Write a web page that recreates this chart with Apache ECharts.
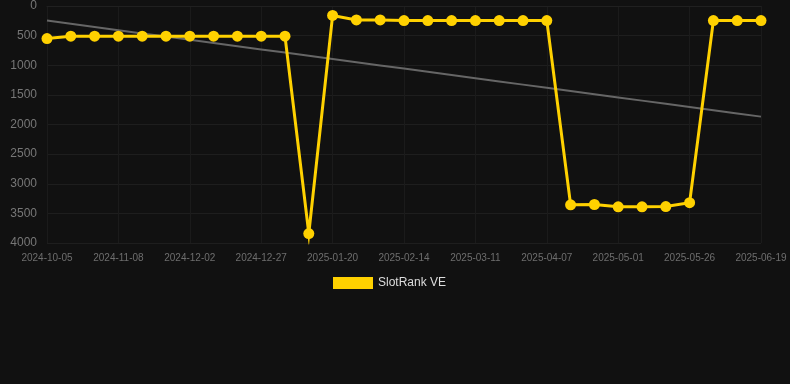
<!DOCTYPE html>
<html>
<head>
<meta charset="utf-8">
<script src="https://cdn.jsdelivr.net/npm/echarts@6/dist/echarts.min.js"></script>
<style>
  html, body { margin: 0; padding: 0; background: #111111; }
  #chart { width: 790px; height: 384px; }
</style>
</head>
<body>
<div id="chart"></div>
<script>
const dates = [
  "2024-10-05", "2024-10-17", "2024-10-28", "2024-11-08", "2024-11-16", "2024-11-24",
  "2024-12-02", "2024-12-10", "2024-12-19", "2024-12-27", "2025-01-04", "2025-01-12",
  "2025-01-20", "2025-01-28", "2025-02-06", "2025-02-14", "2025-02-22", "2025-03-03",
  "2025-03-11", "2025-03-20", "2025-03-29", "2025-04-07", "2025-04-15", "2025-04-23",
  "2025-05-01", "2025-05-09", "2025-05-18", "2025-05-26", "2025-06-03", "2025-06-11",
  "2025-06-19"
];
const rankVE = [
  550, 510, 510, 510, 510, 510, 510, 510, 510, 510, 510, 3840,
  160, 235, 235, 245, 245, 245, 245, 245, 245, 245, 3355, 3350,
  3390, 3390, 3385, 3320, 245, 245, 245
];

// least-squares trend over the series
function trendLine(values) {
  const n = values.length;
  const mx = (n - 1) / 2;
  const my = values.reduce((s, v) => s + v, 0) / n;
  let num = 0, den = 0;
  values.forEach((v, i) => { num += (i - mx) * (v - my); den += (i - mx) * (i - mx); });
  const slope = num / den;
  return values.map((_, i) => my + slope * (i - mx));
}

const chart = echarts.init(document.getElementById("chart"));
chart.setOption({
  backgroundColor: "#111111",
  animation: false,
  grid: { left: 47, right: 29, top: 6, bottom: 141 },
  legend: {
    data: ["SlotRank VE"],
    left: 328,
    top: 272,
    itemWidth: 40,
    itemHeight: 12,
    itemGap: 6,
    icon: "rect",
    textStyle: { color: "#dddddd", fontSize: 12, fontFamily: "Liberation Sans" }
  },
  xAxis: {
    type: "category",
    data: dates,
    boundaryGap: false,
    axisLine: { lineStyle: { color: "#202020" } },
    axisTick: { show: false },
    axisLabel: { color: "#6e6e6e", fontSize: 10, interval: 2, fontFamily: "Liberation Sans", margin: 10 },
    splitLine: { show: true, interval: 2, lineStyle: { color: "#1b1b1b" } }
  },
  yAxis: {
    type: "value",
    inverse: true,
    min: 0,
    max: 4000,
    interval: 500,
    axisLine: { show: false },
    axisTick: { show: false },
    axisLabel: { color: "#777777", fontSize: 12, fontFamily: "Liberation Sans", margin: 10, formatter: (v) => String(v) },
    splitLine: { lineStyle: { color: "#1e1e1e" } }
  },
  series: [
    {
      name: "SlotRank VE",
      type: "line",
      data: rankVE,
      color: "#ffd100",
      symbol: "circle",
      symbolSize: 11,
      lineStyle: { width: 3, color: "#ffd100", join: "miter" },
      itemStyle: { color: "#ffd100" },
      z: 3
    },
    {
      name: "Trend",
      type: "line",
      data: trendLine(rankVE),
      symbol: "none",
      lineStyle: { width: 2, color: "#666666" },
      z: 2
    }
  ]
});
</script>
</body>
</html>
